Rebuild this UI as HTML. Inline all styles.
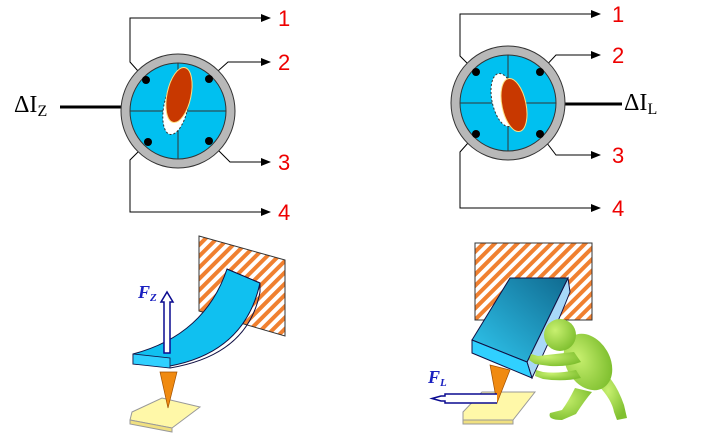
<!DOCTYPE html><html><head><style>body{margin:0;background:#fff}svg{display:block}</style></head><body>
<svg width="710" height="448" viewBox="0 0 710 448" xmlns="http://www.w3.org/2000/svg">
<defs>
<marker id="ar" markerWidth="10" markerHeight="8" refX="9" refY="4" orient="auto" markerUnits="userSpaceOnUse"><path d="M0,0L10,4L0,8z" fill="#000"/></marker>
<pattern id="h" width="8" height="8" patternUnits="userSpaceOnUse" patternTransform="rotate(45)"><rect width="8" height="8" fill="#fff"/><rect width="4" height="8" fill="#f08030"/></pattern>
<linearGradient id="bg" x1="0" y1="1" x2="1" y2="0"><stop offset="0" stop-color="#30c8f0"/><stop offset="1" stop-color="#106a90"/></linearGradient>
<radialGradient id="gg" cx=".35" cy=".35" r=".7"><stop offset="0" stop-color="#c8f070"/><stop offset="1" stop-color="#80c030"/></radialGradient>
</defs>
<g stroke="#000" stroke-width="1" fill="none">
<path d="M146,80L130,62V18H270" marker-end="url(#ar)"/>
<path d="M209,79L228,62H270" marker-end="url(#ar)"/>
<path d="M209,141L230,162H270" marker-end="url(#ar)"/>
<path d="M148,142L130,160V212H270" marker-end="url(#ar)"/>
<path d="M476,72L460,56V14H600" marker-end="url(#ar)"/>
<path d="M540,72L556,55H600" marker-end="url(#ar)"/>
<path d="M540,134L556,155H600" marker-end="url(#ar)"/>
<path d="M476,134L460,152V208H600" marker-end="url(#ar)"/>
</g>
<line x1="60" y1="107" x2="122" y2="107" stroke="#000" stroke-width="3"/>
<line x1="564" y1="104" x2="622" y2="104" stroke="#000" stroke-width="3"/>
<g font-family="Liberation Sans,sans-serif" font-size="22" fill="#e00">
<text x="278" y="26">1</text><text x="278" y="70">2</text><text x="278" y="170">3</text><text x="278" y="220">4</text>
<text x="612" y="22">1</text><text x="612" y="63">2</text><text x="612" y="163">3</text><text x="612" y="216">4</text>
</g>
<text x="14" y="112" font-family="Liberation Serif,serif" font-size="24">ΔI<tspan font-size="16" dy="4">Z</tspan></text>
<text x="624" y="110" font-family="Liberation Serif,serif" font-size="24">ΔI<tspan font-size="16" dy="4">L</tspan></text>
<g>
<circle cx="178" cy="111" r="57" fill="#b8b8b8" stroke="#333"/>
<circle cx="178" cy="111" r="48" fill="#00c0f0" stroke="#333"/>
<path d="M130,111H226M178,63V159" stroke="#333"/>
<ellipse cx="176" cy="106" rx="12" ry="29" transform="rotate(12 176 106)" fill="#fff" stroke="#333" stroke-dasharray="2,2"/>
<ellipse cx="179" cy="95" rx="12" ry="28" transform="rotate(12 179 95)" fill="#c83800" stroke="#ffe080"/>
<circle cx="146" cy="80" r="4"/><circle cx="209" cy="79" r="4"/><circle cx="148" cy="142" r="4"/><circle cx="209" cy="141" r="4"/>
</g>
<g>
<circle cx="508" cy="103" r="57" fill="#b8b8b8" stroke="#333"/>
<circle cx="508" cy="103" r="48" fill="#00c0f0" stroke="#333"/>
<path d="M460,103H556M508,55V151" stroke="#333"/>
<ellipse cx="504" cy="100" rx="12" ry="27" transform="rotate(-12 504 100)" fill="#fff" stroke="#333" stroke-dasharray="2,2"/>
<ellipse cx="514" cy="105" rx="12" ry="27" transform="rotate(-12 514 105)" fill="#c83800" stroke="#ffe080"/>
<circle cx="476" cy="72" r="4"/><circle cx="540" cy="72" r="4"/><circle cx="476" cy="134" r="4"/><circle cx="540" cy="134" r="4"/>
</g>
<path d="M199,236L285,260V336L199,311Z" fill="url(#h)" stroke="#333"/>
<path d="M132,412L162,398L200,407L172,428L130,420Z" fill="#fff8a8" stroke="#999"/>
<path d="M130,420L172,428L172,432L130,424Z" fill="#f0e080" stroke="#999"/>
<path d="M160,372L177,372L168,408Z" fill="#f08a10" stroke="#a05000" stroke-width=".7"/>
<path d="M133,354Q205,335 227,269L260,283Q245,352 170,366L133,364Z" fill="#10c0f0" stroke="#114" stroke-width="1"/>
<path d="M133,354L133,364L170,368L170,358Z" fill="#30d0ff" stroke="#114" stroke-width=".8"/>
<path d="M227,269L260,283L260,292Q248,355 170,368" fill="none" stroke="#114"/>
<path d="M164,353V302H161L167,292L173,302H170V353Z" fill="#fff" stroke="#0a0a90" stroke-width="1.5"/>
<text x="138" y="298" font-family="Liberation Serif,serif" font-size="18" font-weight="bold" font-style="italic" fill="#1a20c0">F<tspan font-size="11" dy="3">Z</tspan></text>
<rect x="475" y="243" width="117" height="77" fill="url(#h)" stroke="#333"/>
<path d="M463,412L482,392L535,392L513,420L463,420Z" fill="#fff8a8" stroke="#999"/>
<path d="M463,420L513,420L513,424L463,424Z" fill="#f0e080" stroke="#999"/>
<path d="M490,365L510,370L497,403Z" fill="#f08a10" stroke="#a05000" stroke-width=".7"/>
<path d="M568,278L570,292Q555,330 532,378L527,362Z" fill="#a8d8f8" stroke="#114"/>
<path d="M472,340L510,278L568,278L527,362Z" fill="url(#bg)" stroke="#114"/>
<path d="M472,340L527,362L532,378L472,353Z" fill="#30d0ff" stroke="#114"/>
<path d="M497,403H445V401H441L432,398.5L441,396H445V394H497" fill="#fff" stroke="#0a0a90" stroke-width="1.5"/>
<text x="428" y="383" font-family="Liberation Serif,serif" font-size="18" font-weight="bold" font-style="italic" fill="#1a20c0">F<tspan font-size="11" dy="3">L</tspan></text>
<g fill="url(#gg)" stroke="none">
<path d="M575,388Q568,402 562,410L550,413Q547,420 562,420L576,414Q585,400 592,392Z"/>
<path d="M598,385Q612,400 614,412L617,420L627,418L624,405Q617,385 607,375Z"/>
<ellipse cx="588" cy="362" rx="22" ry="30" transform="rotate(-30 588 362)"/>
<circle cx="560" cy="335" r="16"/>
<path d="M574,352Q555,354 538,356L531,354L529,360L535,364L550,366Q568,367 581,362Z"/>
<path d="M576,370Q558,374 543,372L536,370L535,376L543,379Q563,382 581,378Z"/>
</g>
</svg>
</body></html>
